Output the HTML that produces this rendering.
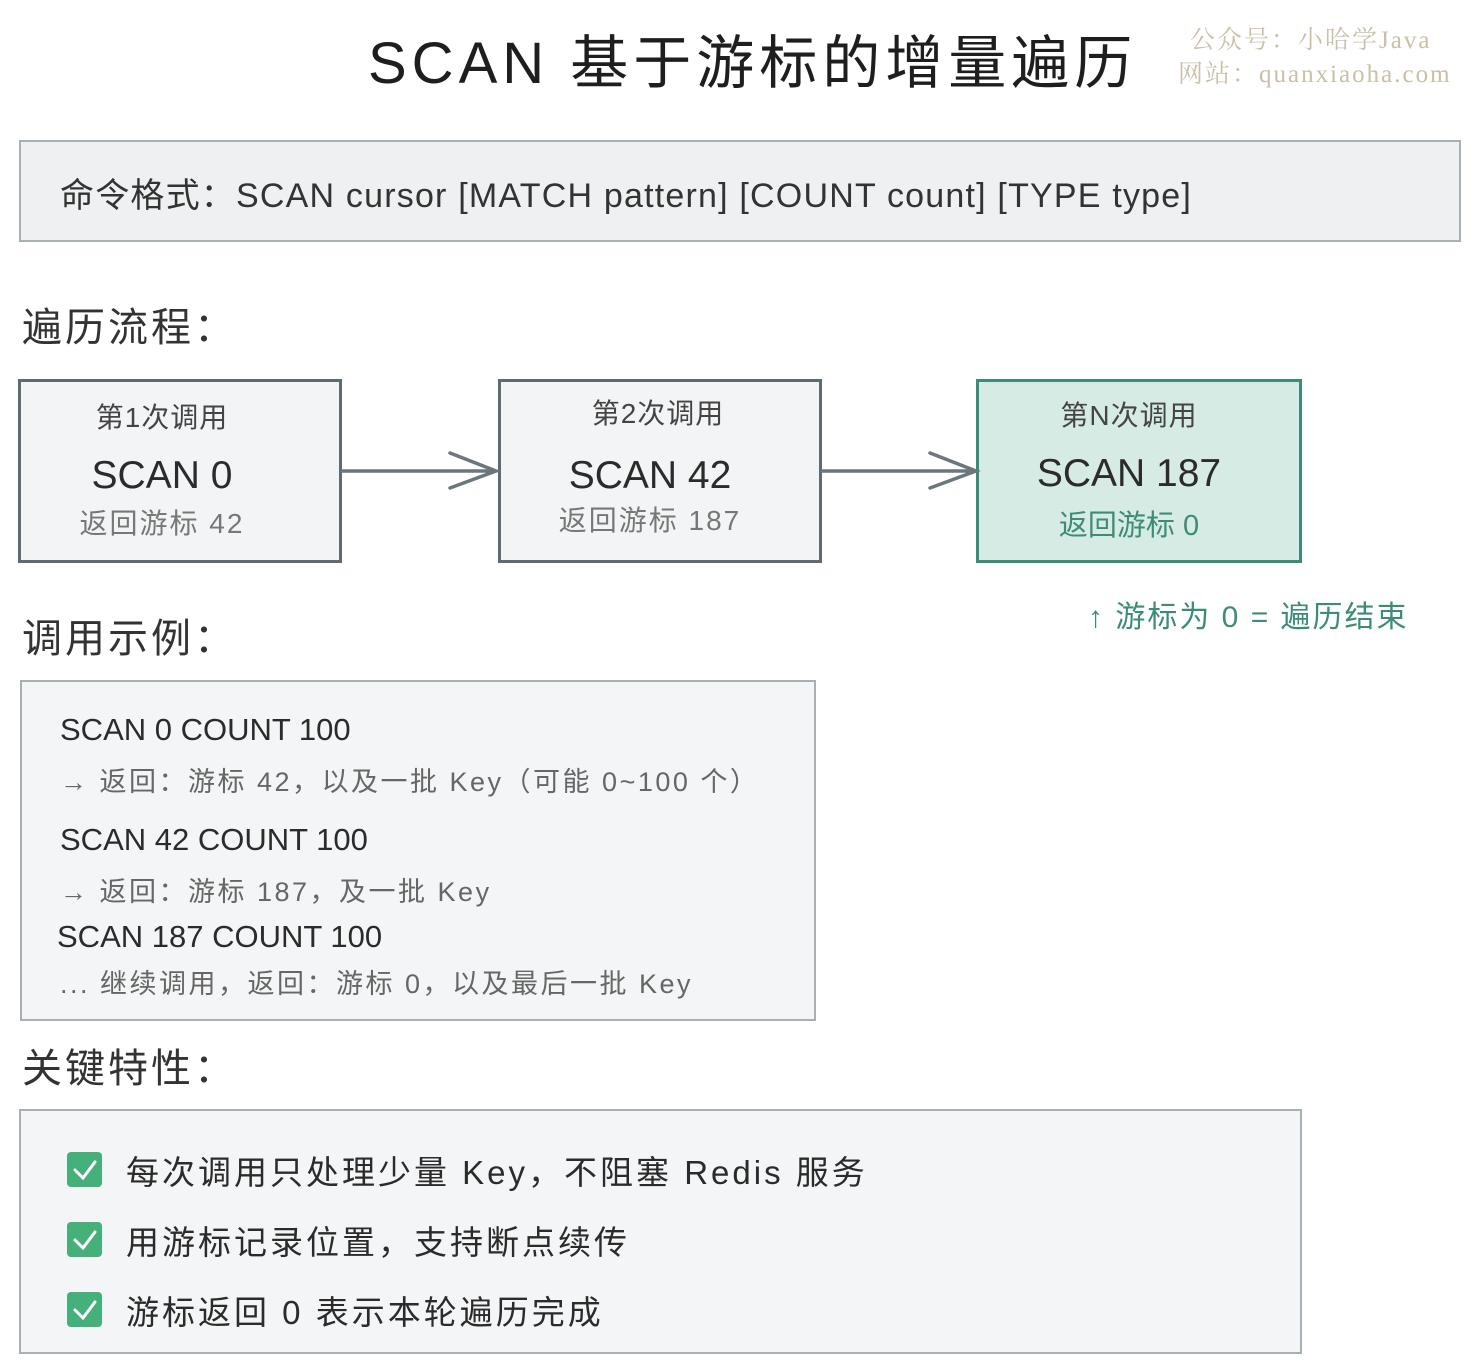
<!DOCTYPE html>
<html><head><meta charset="utf-8"><style>
body{margin:0;width:1480px;height:1371px;background:#fff;position:relative;font-family:"Liberation Sans","Noto Sans CJK SC",sans-serif;color:#2b2b2b;overflow:hidden}
.a{position:absolute;white-space:nowrap}
.box{position:absolute;box-sizing:border-box}
.fb{background:#f3f4f5;border:3px solid #5f6b70}
.c{text-align:center}
</style></head><body>
<div class="a" style="left:368px;top:16px;font-size:58px;letter-spacing:5px;color:#1e1e1e">SCAN 基于游标的增量遍历</div>
<div class="a" style="left:1190px;top:20px;font-size:25px;letter-spacing:2px;color:#c9c0a8;font-family:'Liberation Serif','Noto Serif CJK SC',serif">公众号：小哈学Java</div>
<div class="a" style="left:1178px;top:54px;font-size:25px;letter-spacing:2px;color:#c9c0a8;font-family:'Liberation Serif','Noto Serif CJK SC',serif">网站：quanxiaoha.com</div>

<div class="box" style="left:19px;top:140px;width:1442px;height:102px;background:#eef0f1;border:2px solid #a9b0b3"></div>
<div class="a" style="left:60px;top:168px;font-size:34px;letter-spacing:1.2px;color:#333">命令格式：SCAN cursor [MATCH pattern] [COUNT count] [TYPE type]</div>

<div class="a" style="left:22px;top:295px;font-size:40px;letter-spacing:3px;color:#333">遍历流程：</div>

<div class="box fb" style="left:18px;top:379px;width:324px;height:184px"></div>
<div class="a c" style="left:0px;width:324px;top:396px;font-size:28px;letter-spacing:1px;color:#444">第1次调用</div>
<div class="a c" style="left:0px;width:324px;top:454px;font-size:39px">SCAN 0</div>
<div class="a c" style="left:0px;width:324px;top:502px;font-size:28px;letter-spacing:2px;color:#777">返回游标 42</div>

<div class="box fb" style="left:498px;top:379px;width:324px;height:184px"></div>
<div class="a c" style="left:496px;width:324px;top:392px;font-size:28px;letter-spacing:1px;color:#444">第2次调用</div>
<div class="a c" style="left:488px;width:324px;top:454px;font-size:39px">SCAN 42</div>
<div class="a c" style="left:488px;width:324px;top:499px;font-size:28px;letter-spacing:2px;color:#777">返回游标 187</div>

<div class="box" style="left:976px;top:379px;width:326px;height:184px;background:#d7ebe5;border:3px solid #3d8c77"></div>
<div class="a c" style="left:966px;width:326px;top:394px;font-size:28px;letter-spacing:1px;color:#444">第N次调用</div>
<div class="a c" style="left:966px;width:326px;top:452px;font-size:39px">SCAN 187</div>
<div class="a c" style="left:966px;width:326px;top:502px;font-size:29px;color:#3d8c77">返回游标 0</div>

<svg class="a" style="left:0;top:0" width="1480" height="700">
<g stroke="#6a777c" stroke-width="3.5" fill="none" stroke-linecap="round">
<path d="M342 471 L496 471 M450 453 L496 471 L450 488"/>
<path d="M822 471 L976 471 M930 453 L976 471 L930 488"/>
</g></svg>
<div class="a" style="left:1088px;top:592px;font-size:30px;letter-spacing:2px;color:#3d8c77">↑ 游标为 0 = 遍历结束</div>

<div class="a" style="left:22px;top:606px;font-size:40px;letter-spacing:3px;color:#333">调用示例：</div>
<div class="box" style="left:20px;top:680px;width:796px;height:341px;background:#f4f5f6;border:2px solid #a9b0b3"></div>
<div class="a" style="left:60px;top:712px;font-size:31px">SCAN 0 COUNT 100</div>
<div class="a" style="left:60px;top:760px;font-size:27px;letter-spacing:2.5px;color:#666">→ 返回：游标 42，以及一批 Key（可能 0~100 个）</div>
<div class="a" style="left:60px;top:822px;font-size:31px">SCAN 42 COUNT 100</div>
<div class="a" style="left:60px;top:870px;font-size:27px;letter-spacing:2.5px;color:#666">→ 返回：游标 187，及一批 Key</div>
<div class="a" style="left:57px;top:919px;font-size:31px">SCAN 187 COUNT 100</div>
<div class="a" style="left:60px;top:962px;font-size:27px;letter-spacing:2.5px;color:#666">... 继续调用，返回：游标 0，以及最后一批 Key</div>

<div class="a" style="left:22px;top:1036px;font-size:40px;letter-spacing:3px;color:#333">关键特性：</div>
<div class="box" style="left:19px;top:1109px;width:1283px;height:245px;background:#f4f5f6;border:2px solid #a9b0b3"></div>
<div class="box" style="left:67px;top:1152px;width:35px;height:35px;border-radius:4px;background:#45b07a"></div>
<div class="box" style="left:67px;top:1222px;width:35px;height:35px;border-radius:4px;background:#45b07a"></div>
<div class="box" style="left:67px;top:1292px;width:35px;height:35px;border-radius:4px;background:#45b07a"></div>
<svg class="a" style="left:0;top:1100px" width="120" height="260"><g stroke="#fff" stroke-width="3" fill="none" stroke-linecap="round"><path d="M75 70 L83 78 L95 62"/><path d="M75 140 L83 148 L95 132"/><path d="M75 210 L83 218 L95 202"/></g></svg>
<div class="a" style="left:126px;top:1146px;font-size:33px;letter-spacing:3px">每次调用只处理少量 Key，不阻塞 Redis 服务</div>
<div class="a" style="left:126px;top:1216px;font-size:33px;letter-spacing:3px">用游标记录位置，支持断点续传</div>
<div class="a" style="left:126px;top:1286px;font-size:33px;letter-spacing:3px">游标返回 0 表示本轮遍历完成</div>
</body></html>
